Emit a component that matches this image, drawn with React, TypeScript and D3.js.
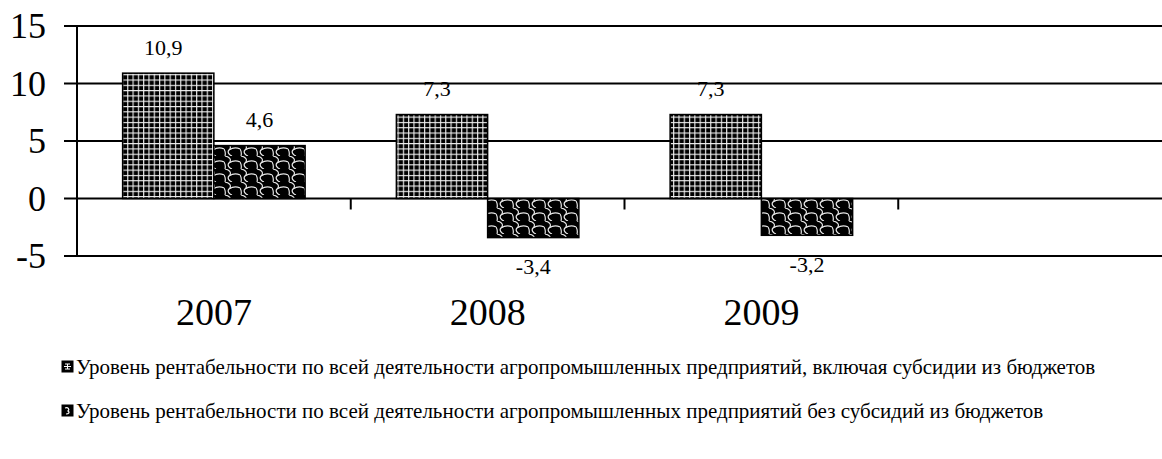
import React, { useEffect, useRef } from "react";
import * as d3 from "d3";

// --- Data
const years = ["2007", "2008", "2009", ""];
const withSubsidies = [10.9, 7.3, 7.3];
const withoutSubsidies = [4.6, -3.4, -3.2];
const yTicks = [-5, 0, 5, 10, 15];
const seriesNames = [
  "Уровень рентабельности по всей деятельности агропромышленных предприятий, включая субсидии из бюджетов",
  "Уровень рентабельности по всей деятельности агропромышленных предприятий без субсидий из бюджетов",
];

const fmt = (v: number) => String(v).replace(".", ",");

const App: React.FC = () => {
  const ref = useRef<SVGSVGElement | null>(null);
  const width = 1162;
  const height = 459;

  useEffect(() => {
    if (!ref.current) return;
    const root = d3.select(ref.current);
    root.selectAll("*").remove();

    const margin = { left: 77, right: -10, top: 26, bottom: 203 };
    const font = "Liberation Serif";

    // --- Patterns
    const defs = root.append("defs");
    const grid = defs
      .append("pattern")
      .attr("id", "grid")
      .attr("patternUnits", "userSpaceOnUse")
      .attr("width", 5.3)
      .attr("height", 5.3);
    grid.append("rect").attr("width", 5.3).attr("height", 5.3).attr("fill", "#000");
    grid
      .append("path")
      .attr("d", "M0,0.6 H5.3 M0.6,0 V5.3")
      .attr("stroke", "#f2f2f2")
      .attr("stroke-width", 1.1);

    // scale-like "shingle" texture
    const shingle = defs
      .append("pattern")
      .attr("id", "shingle")
      .attr("patternUnits", "userSpaceOnUse")
      .attr("width", 16)
      .attr("height", 13);
    shingle.append("rect").attr("width", 16).attr("height", 13).attr("fill", "#000");
    shingle
      .append("path")
      .attr(
        "d",
        "M1,0 C6,1 8,4 5,7 C3,9 5,12 8,13 M5,7 C8,5 12,4 16,6 M-11,7 C-8,5 -4,4 0,6 M17,0 C22,1 24,4 21,7 M0,6 C1,8 2,9 1,13"
      )
      .attr("fill", "none")
      .attr("stroke", "#e6e6e6")
      .attr("stroke-width", 1.2);

    // legend marker versions (coarser, like the reference)
    const gridIcon = defs
      .append("pattern")
      .attr("id", "gridIcon")
      .attr("patternUnits", "objectBoundingBox")
      .attr("width", 1)
      .attr("height", 1);
    gridIcon.append("rect").attr("width", 11).attr("height", 11).attr("fill", "#000");
    gridIcon
      .append("path")
      .attr("d", "M2,5.5 H9 M5.5,3 V8 M3,3 H8 M3,8 H8")
      .attr("stroke", "#fff")
      .attr("stroke-width", 1);

    const shingleIcon = defs
      .append("pattern")
      .attr("id", "shingleIcon")
      .attr("patternUnits", "objectBoundingBox")
      .attr("width", 1)
      .attr("height", 1);
    shingleIcon.append("rect").attr("width", 11).attr("height", 11).attr("fill", "#000");
    shingleIcon
      .append("path")
      .attr("d", "M3,3 C6,2 8,4 6,6 C8,7 7,9 4,9")
      .attr("fill", "none")
      .attr("stroke", "#fff")
      .attr("stroke-width", 1.2);

    const patterns = ["url(#grid)", "url(#shingle)"];
    const icons = ["url(#gridIcon)", "url(#shingleIcon)"];

    // --- Scales
    const x = d3
      .scaleBand<string>()
      .domain(years.map((d, i) => String(i)))
      .range([margin.left, width - margin.right])
      .padding(0);
    const bw = x.bandwidth();
    const xs = d3
      .scaleBand<number>()
      .domain([0, 1])
      .range([bw / 6, (bw * 5) / 6])
      .padding(0);
    const y = d3
      .scaleLinear()
      .domain([-5, 15])
      .range([height - margin.bottom, margin.top]);

    const g = root.append("g").attr("font-family", font);

    // Gridlines
    g.selectAll(".grid")
      .data(yTicks)
      .join("line")
      .attr("x1", margin.left - 13)
      .attr("x2", width)
      .attr("y1", (d) => y(d))
      .attr("y2", (d) => y(d))
      .attr("stroke", "#000")
      .attr("stroke-width", 2);

    // Y tick labels
    g.selectAll(".ylab")
      .data(yTicks)
      .join("text")
      .attr("x", 46)
      .attr("y", (d) => y(d))
      .attr("dy", "0.34em")
      .attr("text-anchor", "end")
      .attr("font-size", 36)
      .text((d) => String(d));

    // Y axis line
    g.append("line")
      .attr("x1", margin.left)
      .attr("x2", margin.left)
      .attr("y1", y(15))
      .attr("y2", y(-5))
      .attr("stroke", "#000")
      .attr("stroke-width", 2);

    // Category ticks at zero line
    g.selectAll(".xtick")
      .data(years.slice(1))
      .join("line")
      .attr("x1", (d, i) => x(String(i + 1))!)
      .attr("x2", (d, i) => x(String(i + 1))!)
      .attr("y1", y(0))
      .attr("y2", y(0) + 11)
      .attr("stroke", "#000")
      .attr("stroke-width", 2);

    // Bars
    const series = [withSubsidies, withoutSubsidies];
    const labelShift = [-5, 0];
    series.forEach((vals, si) => {
      g.selectAll(`.bar${si}`)
        .data(vals)
        .join("rect")
        .attr("x", (d, i) => x(String(i))! + xs(si)!)
        .attr("width", xs.bandwidth())
        .attr("y", (d) => y(Math.max(0, d)))
        .attr("height", (d) => Math.abs(y(d) - y(0)))
        .attr("fill", patterns[si])
        .attr("stroke", "#000")
        .attr("stroke-width", 1.5);

      g.selectAll(`.lab${si}`)
        .data(vals)
        .join("text")
        .attr("x", (d, i) => x(String(i))! + xs(si)! + xs.bandwidth() / 2 + labelShift[si])
        .attr("y", (d) => (d >= 0 ? y(d) - 26 : y(d) + 29))
        .attr("dy", "0.35em")
        .attr("text-anchor", "middle")
        .attr("font-size", 22)
        .text((d) => fmt(d));
    });

    // Category labels
    g.selectAll(".xlab")
      .data(years)
      .join("text")
      .attr("x", (d, i) => x(String(i))! + bw / 2)
      .attr("y", 325)
      .attr("text-anchor", "middle")
      .attr("font-size", 38)
      .text((d) => d);

    // Legend
    const legend = g
      .selectAll(".legend")
      .data(seriesNames)
      .join("g")
      .attr("transform", (d, i) => `translate(62, ${361 + i * 44})`);
    legend
      .append("rect")
      .attr("width", 11)
      .attr("height", 11)
      .attr("fill", (d, i) => icons[i])
      .attr("stroke", "#000")
      .attr("stroke-width", 1);
    legend
      .append("text")
      .attr("x", 14)
      .attr("y", 5.5)
      .attr("dy", "0.36em")
      .attr("font-size", 21)
      .text((d) => d);
  }, []);

  return (
    <svg
      ref={ref}
      width={width}
      height={height}
      style={{ position: "absolute", left: 0, top: 0 }}
    ></svg>
  );
};

export default App;
